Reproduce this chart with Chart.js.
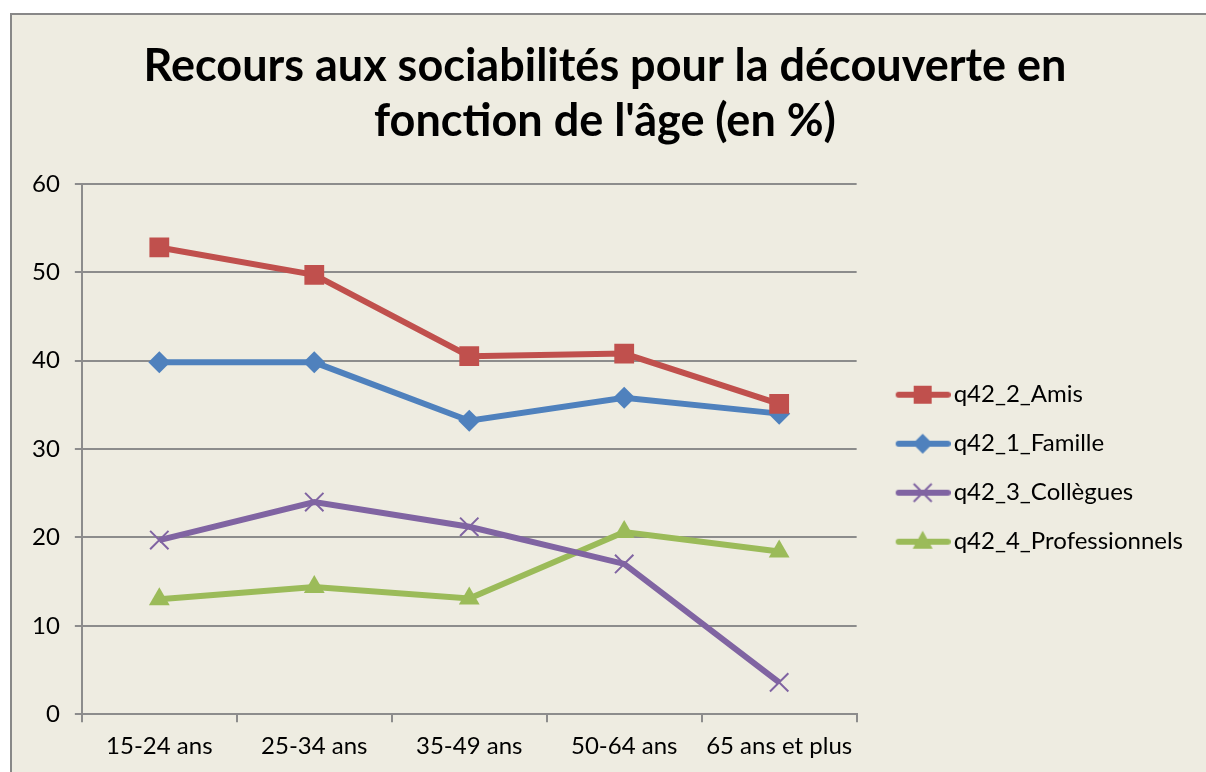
<!DOCTYPE html>
<html>
<head>
<meta charset="utf-8">
<script src="https://cdn.jsdelivr.net/npm/chart.js@4"></script>
<style>
  html, body { margin: 0; padding: 0; background: #fff; overflow: hidden; }
  #frame {
    position: absolute; left: 10px; top: 13px;
    width: 1220px; height: 780px;
    border: 2px solid #888; background: #EEECE1;
  }
  #wrap { position: absolute; left: 0; top: 0; width: 1196px; height: 765px; }
</style>
</head>
<body>
<div id="frame"><div id="wrap"><canvas id="chart"></canvas></div></div>
<script>
// data
const ageGroups = ['15-24 ans', '25-34 ans', '35-49 ans', '50-64 ans', '65 ans et plus'];
const amis = [52.8, 49.7, 40.5, 40.8, 35.1];
const famille = [39.8, 39.8, 33.2, 35.8, 34.0];
const collegues = [19.7, 24.0, 21.2, 17.0, 3.6];
const professionnels = [13.0, 14.4, 13.1, 20.6, 18.4];
const yTicks = [0, 10, 20, 30, 40, 50, 60];

const red = '#C0504D', blue = '#4F81BD', purple = '#8064A2', green = '#9BBB59';
const gridGrey = '#8C8C8C';
const font = 'Lato, "Open Sans", sans-serif';

// small picture for the legend: line with the marker on it (left part left empty)
function legendIcon(color, marker) {
    const c = document.createElement('canvas');
    c.width = 78; c.height = 26;
    const g = c.getContext('2d');
    g.strokeStyle = color; g.fillStyle = color;
    g.lineWidth = 6; g.lineCap = 'round';
    g.beginPath(); g.moveTo(26, 13); g.lineTo(75, 13); g.stroke();
    const x = 50, y = 13;
    g.beginPath();
    if (marker === 'rect') {
        g.fillRect(x - 9, y - 9, 18, 18);
    } else if (marker === 'rectRot') {
        g.moveTo(x, y - 10); g.lineTo(x + 10, y); g.lineTo(x, y + 10); g.lineTo(x - 10, y); g.closePath(); g.fill();
    } else if (marker === 'crossRot') {
        g.lineWidth = 2; g.lineCap = 'butt';
        g.moveTo(x - 9, y - 9); g.lineTo(x + 9, y + 9);
        g.moveTo(x + 9, y - 9); g.lineTo(x - 9, y + 9); g.stroke();
    } else {
        g.moveTo(x, y - 11); g.lineTo(x + 10, y + 7); g.lineTo(x - 10, y + 7); g.closePath(); g.fill();
    }
    return c;
}

function series(label, data, color, marker, radius) {
    return {
        label: label,
        data: data,
        borderColor: color,
        backgroundColor: color,
        borderWidth: 6,
        tension: 0,
        pointStyle: marker,
        pointRadius: radius,
        pointHoverRadius: radius,
        pointBorderWidth: marker === 'crossRot' ? 2 : 0,
        pointBackgroundColor: color,
        pointBorderColor: color,
        legendIcon: legendIcon(color, marker)
    };
}

const ctx = document.getElementById('chart').getContext('2d');

new Chart(ctx, {
    type: 'line',
    data: {
        labels: ageGroups,
        datasets: [
            series('q42_2_Amis', amis, red, 'rect', 14),
            series('q42_1_Famille', famille, blue, 'rectRot', 11),
            series('q42_3_Collègues', collegues, purple, 'crossRot', 13),
            series('q42_4_Professionnels', professionnels, green, 'triangle', 12)
        ]
    },
    options: {
        responsive: true,
        maintainAspectRatio: false,
        animation: false,
        layout: { padding: { left: 5, right: 15, top: 0, bottom: 9 } },
        scales: {
            x: {
                offset: true,
                grid: { drawOnChartArea: false, offset: true, tickLength: 8, color: gridGrey, lineWidth: 2 },
                border: { color: gridGrey, width: 2 },
                ticks: { color: '#000', padding: 10, font: { family: font, size: 24 } }
            },
            y: {
                min: 0,
                max: 60,
                afterBuildTicks: axis => { axis.ticks = yTicks.map(v => ({ value: v })); },
                grid: { color: gridGrey, lineWidth: 2, tickLength: 7 },
                border: { color: gridGrey, width: 2 },
                ticks: { color: '#000', padding: 15, font: { family: font, size: 24 } }
            }
        },
        plugins: {
            title: {
                display: true,
                text: ['Recours aux sociabilités pour la découverte en', "fonction de l'âge (en %)"],
                color: '#000',
                font: { family: font, size: 45, weight: 'bold', lineHeight: 1.22 },
                padding: { top: 24, bottom: 35 }
            },
            legend: {
                position: 'right',
                maxWidth: 400,
                title: { display: true, text: '', padding: { top: 136, bottom: 0 } },
                labels: {
                    color: '#000',
                    font: { family: font, size: 24 },
                    usePointStyle: true,
                    pointStyleWidth: 60,
                    padding: 25,
                    generateLabels: chart => chart.data.datasets.map((ds, i) => ({
                        text: ds.label,
                        fontColor: '#000',
                        pointStyle: ds.legendIcon,
                        fillStyle: ds.borderColor,
                        strokeStyle: ds.borderColor,
                        lineWidth: 0,
                        hidden: false,
                        datasetIndex: i
                    }))
                }
            },
            tooltip: { enabled: false }
        }
    }
});
</script>
</body>
</html>
